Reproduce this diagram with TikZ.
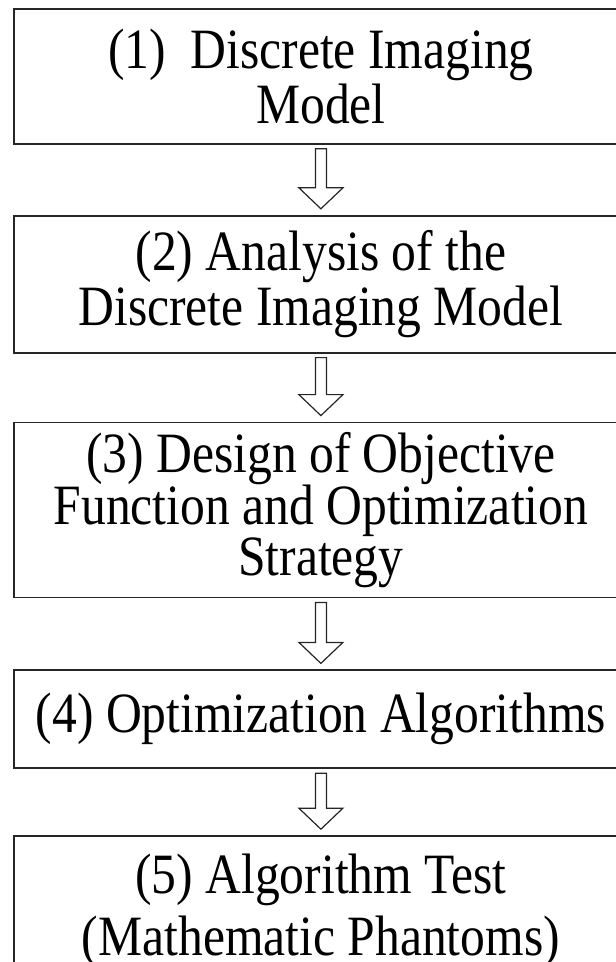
\documentclass[tikz,border=0pt]{standalone}
\usepackage{fontspec}
\setmainfont{Liberation Serif}[FakeStretch=0.87]
\usetikzlibrary{positioning,calc}

\begin{document}
\begin{tikzpicture}[
  x=1pt, y=1pt,
  stage/.style={draw=black!85, line width=1.8pt, align=center, minimum width=614pt, inner sep=0pt, font=\fontsize{57}{55}\selectfont},
  hollow/.style={draw=black!85, line width=1.2pt, fill=white, line join=miter}
]
\useasboundingbox (0,0) rectangle (616,-962);
\clip (0,0) rectangle (616,-962);

\node[stage, minimum height=135pt, anchor=north west] (model) at (13,-8) {(1)~ Discrete Imaging\\Model};
\node[stage, minimum height=137pt, below=70pt of model] (analysis) {(2) Analysis of the\\Discrete Imaging Model};
\node[stage, minimum height=175pt, below=68pt of analysis, font=\fontsize{57}{47}\selectfont] (design) {(3) Design of Objective\\Function and Optimization\\Strategy};
\node[stage, minimum height=98pt, below=71pt of design] (optim) {(4) Optimization Algorithms};
\node[stage, minimum height=150pt, below=66pt of optim, font=\fontsize{57}{62}\selectfont] (test) {(5) Algorithm Test\\(Mathematic Phantoms)};

% hollow block arrows between the stages
\foreach \a/\b in {model/analysis, analysis/design, design/optim, optim/test}
  \draw[hollow] ($(\a.south)+(-5.5,-4)$) -- ($(\b.north)+(-5.5,27)$) -- ++(-16.5,0)
    -- ($(\b.north)+(0,6)$) -- ($(\b.north)+(22,27)$) -- ++(-16.5,0)
    -- ($(\a.south)+(5.5,-4)$) -- cycle;
\end{tikzpicture}
\end{document}
